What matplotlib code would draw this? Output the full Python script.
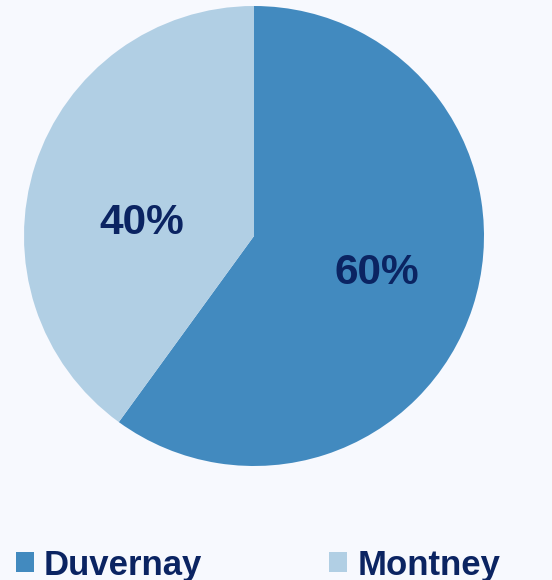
import matplotlib.pyplot as plt
from matplotlib.patches import Patch

labels = ["Duvernay", "Montney"]
shares = [60, 40]
colors = ["#428abf", "#b1cfe4"]
text_color = "#0b2462"
bg = "#f7f9fe"

plt.rcParams["font.family"] = ["Liberation Sans", "DejaVu Sans"]

W, H = 552, 580
fig = plt.figure(figsize=(W / 100, H / 100), dpi=100, facecolor=bg)

# pie occupies a 460px square centred at (254, 236) from top-left
ax = fig.add_axes([24 / W, (H - 466) / H, 460 / W, 460 / H])
ax.set_facecolor(bg)
wedges, texts, autotexts = ax.pie(
    shares,
    colors=colors,
    startangle=90,
    counterclock=False,
    radius=1,
    autopct="%d%%",
    pctdistance=0.56,
    textprops=dict(color=text_color, fontsize=30.5, fontweight="bold"),
)
# the 40% label sits further in, left of centre
autotexts[0].set_position((0.535, -0.161))
autotexts[1].set_position((-0.487, 0.057))
ax.set_xlim(-1, 1)
ax.set_ylim(-1, 1)
ax.set_aspect("equal")
ax.axis("off")

handles = [Patch(facecolor=c, edgecolor="none") for c in colors]
fs = 25 * 100 / 72  # font size in pixels
fig.legend(
    handles,
    labels,
    loc="center left",
    bbox_to_anchor=(16 / W, (H - 565) / H),
    ncol=2,
    frameon=False,
    borderpad=0,
    borderaxespad=0,
    handlelength=18 / fs,
    handleheight=18 / fs,
    handletextpad=10 / fs,
    columnspacing=127 / fs,
    prop=dict(size=25, weight="bold"),
    labelcolor=text_color,
)

fig.savefig("out.png", dpi=100, facecolor=bg)
